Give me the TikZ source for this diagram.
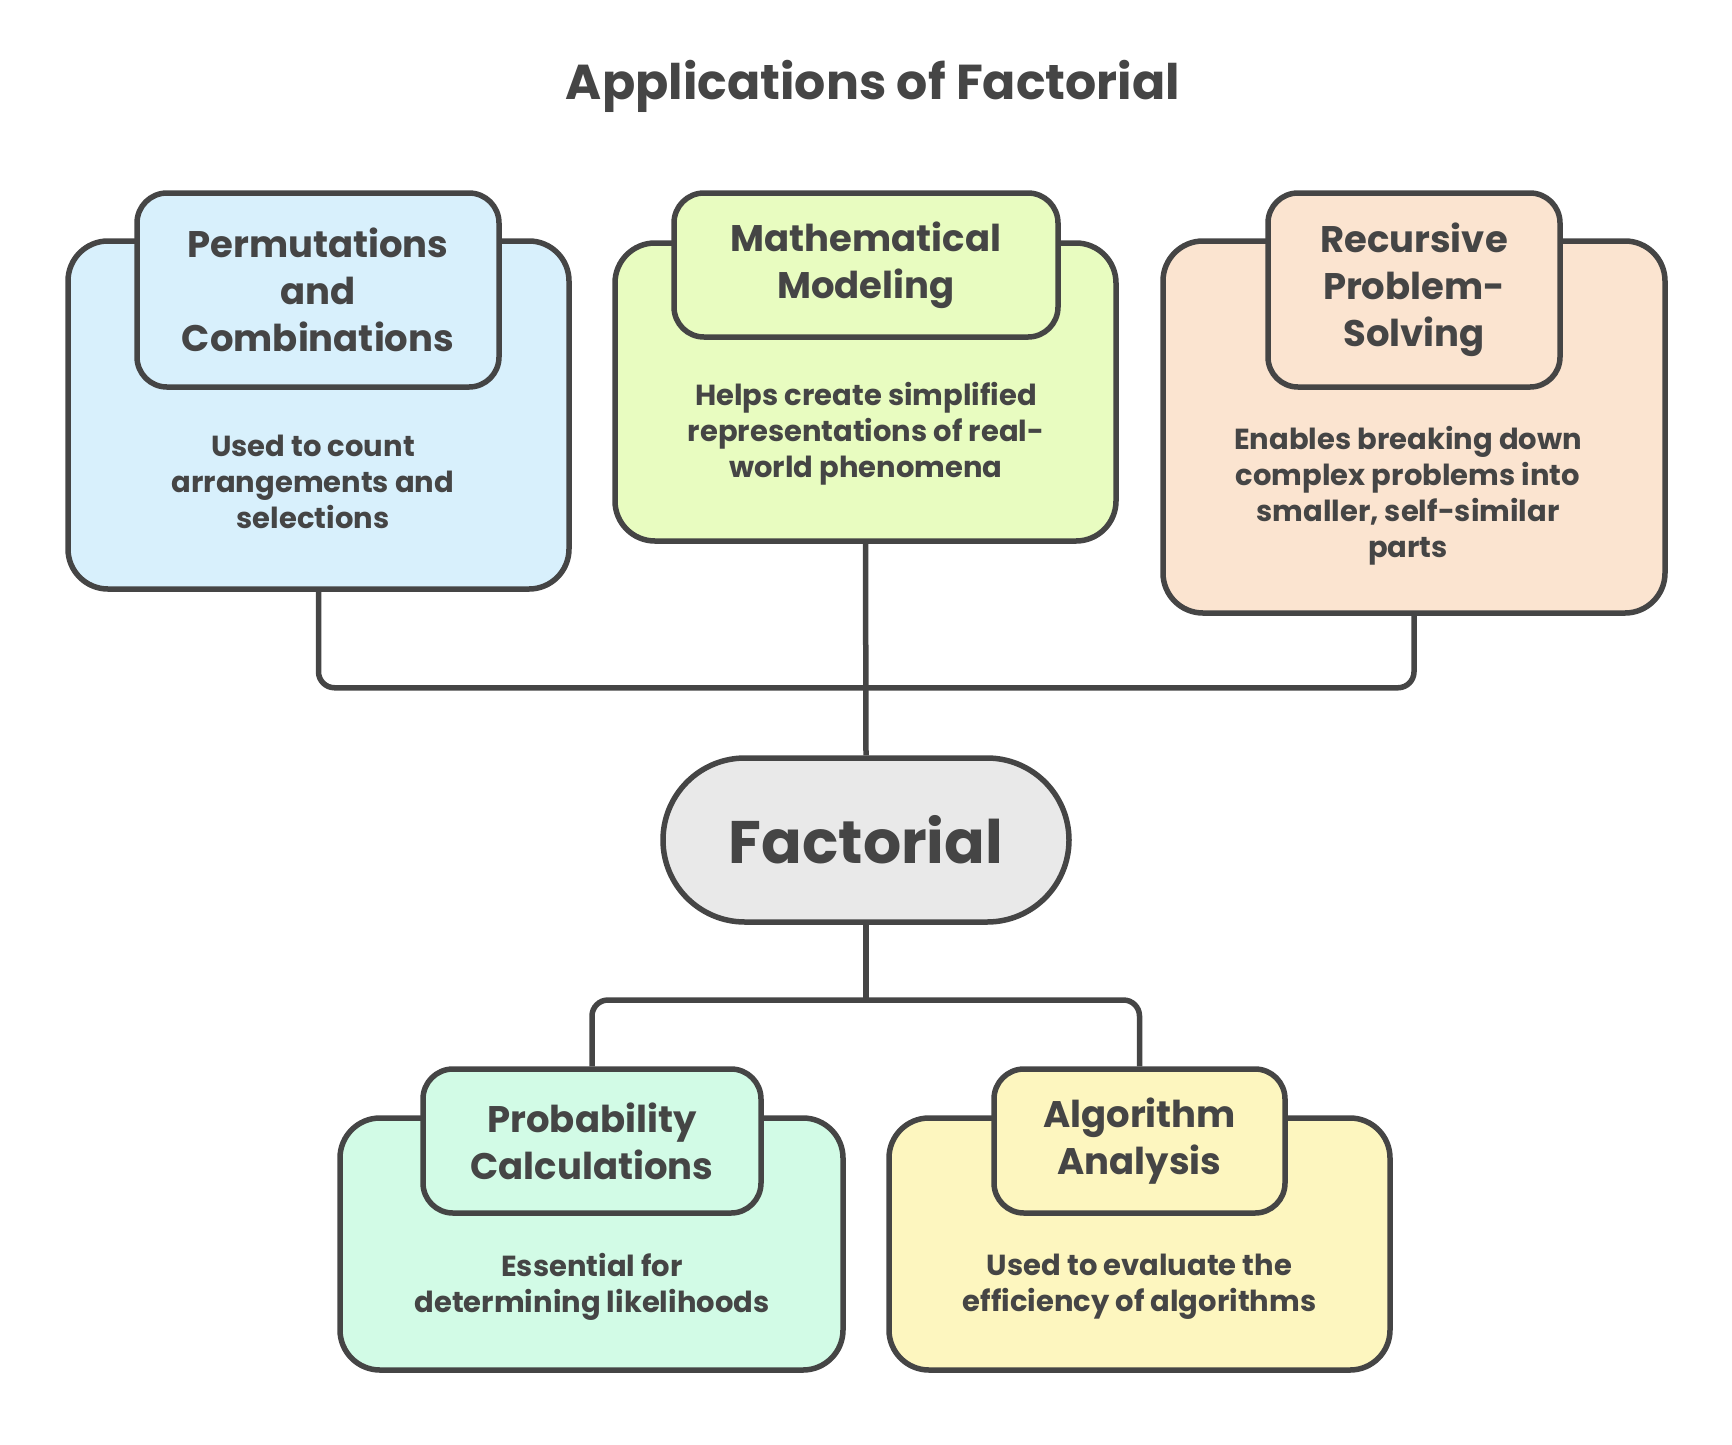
\documentclass[tikz,border=0pt]{standalone}
\usepackage{fontspec}
\setmainfont{Poppins}
\usepackage{tikz}
\usetikzlibrary{calc}
\usetikzlibrary{backgrounds}

\definecolor{ink}{HTML}{454545}
\definecolor{skyfill}{HTML}{D8F0FC}
\definecolor{limefill}{HTML}{E8FCC0}
\definecolor{peachfill}{HTML}{FBE4D0}
\definecolor{greyfill}{HTML}{E9E9E9}
\definecolor{mintfill}{HTML}{D2FBE6}
\definecolor{sandfill}{HTML}{FDF6BF}

\begin{document}
\begin{tikzpicture}[x=1pt,y=-1pt,
  outerbox/.style={draw=ink,line width=\lw,rounded corners=40pt,inner sep=0pt},
  headbox/.style={draw=ink,line width=\lw,rounded corners=30pt,inner sep=0pt,
    text=ink,align=center,font=\bfseries\fontsize{37}{47}\selectfont},
  desc/.style={text=ink,align=center,font=\bfseries\fontsize{29}{36}\selectfont},
  wire/.style={draw=ink,line width=\lw,rounded corners=16pt}]

\def\lw{5.5pt}

\useasboundingbox (0,0) rectangle (1732,1444);

\node[text=ink,font=\bfseries\fontsize{49}{54}\selectfont] (title) at (873,86) {Applications of Factorial};

% top row
\node[outerbox,fill=skyfill,minimum width=501pt,minimum height=348pt] (perm) at (318.5,415) {};
\node[headbox,fill=skyfill,minimum width=362pt,minimum height=194pt] (permhead) at (318,290) {Permutations\\and\\Combinations};
\node[desc] (permtext) at (313,482) {Used to count\\arrangements and\\selections};

\node[outerbox,fill=limefill,minimum width=501pt,minimum height=298pt] (model) at (865.5,392) {};
\node[headbox,fill=limefill,minimum width=384pt,minimum height=144pt] (modelhead) at (866,265) {Mathematical\\Modeling};
\node[desc] (modeltext) at (866,434) {Helps create simplified\\representations of real-\\world phenomena};

\node[outerbox,fill=peachfill,minimum width=502pt,minimum height=372pt] (recur) at (1414,427) {};
\node[headbox,fill=peachfill,minimum width=292pt,minimum height=194pt] (recurhead) at (1414,290) {Recursive\\Problem-\\Solving};
\node[desc] (recurtext) at (1408,496) {Enables breaking down\\complex problems into\\smaller, self-similar\\parts};

% centre
\node[draw=ink,line width=\lw,fill=greyfill,rounded corners=82pt,minimum width=406pt,minimum height=164pt,
  text=ink,font=\bfseries\fontsize{60}{66}\selectfont] (fact) at (866,840) {Factorial};

% bottom row
\node[outerbox,fill=mintfill,minimum width=503pt,minimum height=252pt] (prob) at (591.5,1244) {};
\node[headbox,fill=mintfill,minimum width=338pt,minimum height=144pt] (probhead) at (592,1141) {Probability\\Calculations};
\node[desc] (probtext) at (592,1287) {Essential for\\determining likelihoods};

\node[outerbox,fill=sandfill,minimum width=501pt,minimum height=252pt] (algo) at (1139.5,1244) {};
\node[headbox,fill=sandfill,minimum width=291pt,minimum height=144pt] (algohead) at (1139.5,1141) {Algorithm\\Analysis};
\node[desc] (algotext) at (1139.5,1287) {Used to evaluate the\\efficiency of algorithms};

\coordinate (join) at (866,1000);

\begin{scope}[on background layer]
\draw[wire] (perm.south) -- ++(0,96) -| (recur.south);
\draw[wire] (model.south) -- (fact.north);
\draw[wire] (fact.south) -- (join);
\draw[wire] (probhead.north) |- (join) -| (algohead.north);
\end{scope}

\end{tikzpicture}
\end{document}
